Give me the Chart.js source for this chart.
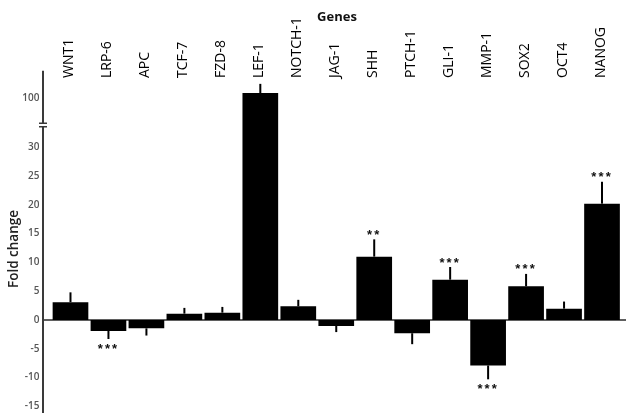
<!DOCTYPE html>
<html>
<head>
<meta charset="utf-8">
<script src="https://cdn.jsdelivr.net/npm/chart.js@4.4.1/dist/chart.umd.min.js"></script>
<style>
  html, body { margin: 0; padding: 0; background: #ffffff; }
  #wrap { width: 626px; height: 413px; position: relative; }
</style>
</head>
<body>
<div id="wrap"><canvas id="c" width="626" height="413"></canvas></div>
<script>
// ---- Data ----
const genes = ['WNT1','LRP-6','APC','TCF-7','FZD-8','LEF-1','NOTCH-1','JAG-1','SHH','PTCH-1','GLI-1','MMP-1','SOX2','OCT4','NANOG'];
const foldChange = [3.1, -1.9, -1.45, 1.1, 1.27, 100.8, 2.37, -1.04, 11.0, -2.3, 7.0, -7.9, 5.85, 1.97, 20.2];
const errorSize = [1.7, 1.4, 1.25, 1.0, 1.0, 1.6, 1.13, 1.06, 3.0, 1.9, 2.2, 2.4, 2.15, 1.23, 3.8];
const significance = ['', '***', '', '', '', '', '', '', '**', '', '***', '***', '***', '', '***'];
const yTicks = [-15, -10, -5, 0, 5, 10, 15, 20, 25, 30, 100];
const breakLow = 33.85;   // top of lower axis segment
const breakHigh = 95.25;  // bottom of upper axis segment

// ---- Broken linear scale ----
class BrokenLinearScale extends Chart.LinearScale {
  toDisplay(v) {
    if (v <= breakLow) return v;
    if (v >= breakHigh) return breakLow + (v - breakHigh);
    return breakLow;
  }
  fromDisplay(d) {
    return d <= breakLow ? d : d - breakLow + breakHigh;
  }
  getPixelForValue(v) { return super.getPixelForValue(this.toDisplay(v)); }
  getValueForPixel(p) { return this.fromDisplay(super.getValueForPixel(p)); }
}
BrokenLinearScale.id = 'brokenLinear';
BrokenLinearScale.defaults = Chart.LinearScale.defaults;
Chart.register(BrokenLinearScale);

const AXIS_X = 43;

const decorPlugin = {
  id: 'decor',
  beforeDatasetsDraw(chart) {
    const ctx = chart.ctx;
    const y = chart.scales.y;
    const y0 = y.getPixelForValue(0);
    ctx.save();
    ctx.strokeStyle = '#2a2a2a';
    ctx.lineWidth = 1.6;
    ctx.beginPath();
    ctx.moveTo(AXIS_X, y0);
    ctx.lineTo(chart.width, y0);
    ctx.stroke();
    ctx.restore();
  },
  afterDatasetsDraw(chart) {
    const ctx = chart.ctx;
    const y = chart.scales.y;
    const meta = chart.getDatasetMeta(0);
    ctx.save();
    // error bars (one-sided, no caps)
    ctx.strokeStyle = '#000';
    ctx.lineWidth = 2;
    meta.data.forEach((bar, i) => {
      const v = foldChange[i];
      const e = v >= 0 ? v + errorSize[i] : v - errorSize[i];
      const py = y.getPixelForValue(v);
      const pe = y.getPixelForValue(e);
      ctx.beginPath();
      ctx.moveTo(bar.x, py);
      ctx.lineTo(bar.x, pe);
      ctx.stroke();
      // significance stars
      const s = significance[i];
      if (s) {
        ctx.font = 'bold 13px "Liberation Sans", Arial, sans-serif';
        ctx.fillStyle = '#111';
        ctx.textAlign = 'center';
        ctx.textBaseline = 'alphabetic';
        const m = ctx.measureText('*');
        const cy = v >= 0 ? pe - 7 : pe + 7.5;
        const base = cy + (m.actualBoundingBoxAscent - m.actualBoundingBoxDescent) / 2;
        const n = s.length;
        for (let k = 0; k < n; k++) {
          const cx = bar.x - 1 + (k - (n - 1) / 2) * 7.2;
          ctx.fillText('*', cx, base);
        }
      }
    });
    // y axis line with break
    const top = 70.7, bottom = chart.height;
    const b1 = 123.2, b2 = 126.8;
    ctx.strokeStyle = '#3a3a3a';
    ctx.lineWidth = 2;
    ctx.beginPath();
    ctx.moveTo(AXIS_X, top); ctx.lineTo(AXIS_X, b1);
    ctx.moveTo(AXIS_X, b2); ctx.lineTo(AXIS_X, bottom);
    ctx.stroke();
    ctx.lineWidth = 1.4;
    ctx.beginPath();
    ctx.moveTo(AXIS_X - 4, b1); ctx.lineTo(AXIS_X + 4, b1);
    ctx.moveTo(AXIS_X - 4, b2); ctx.lineTo(AXIS_X + 4, b2);
    ctx.stroke();
    // titles
    ctx.fillStyle = '#111';
    ctx.font = 'bold 13px "Open Sans", sans-serif';
    ctx.textAlign = 'center';
    ctx.textBaseline = 'middle';
    ctx.fillText('Genes', 337, 17);
    ctx.save();
    ctx.translate(14, 249);
    ctx.rotate(-Math.PI / 2);
    ctx.font = '600 13.5px "Open Sans", sans-serif';
    ctx.fillStyle = '#222';
    ctx.fillText('Fold change', 0, 0);
    ctx.restore();
    ctx.restore();
  }
};

new Chart(document.getElementById('c'), {
  type: 'bar',
  data: {
    labels: genes,
    datasets: [{
      data: foldChange,
      backgroundColor: '#000000',
      borderWidth: 0,
      barPercentage: 0.94,
      categoryPercentage: 1.0
    }]
  },
  options: {
    responsive: false,
    animation: false,
    devicePixelRatio: 1,
    layout: { padding: { left: 0, right: 5, top: 0, bottom: 0 } },
    plugins: { legend: { display: false }, tooltip: { enabled: false } },
    scales: {
      x: {
        type: 'category',
        position: 'top',
        offset: true,
        grid: { display: false, drawTicks: false },
        border: { display: false },
        ticks: {
          minRotation: 90, maxRotation: 90, autoSkip: false,
          padding: 2,
          labelOffset: 15.5,
          color: '#000',
          font: { family: '"Open Sans", sans-serif', size: 14 }
        },
        afterFit(scale) { scale.height = 80; scale.paddingLeft = 0; scale.paddingRight = 0; }
      },
      y: {
        type: 'brokenLinear',
        min: -16.15,
        max: 41.67,
        grid: { display: false, drawTicks: false },
        border: { display: false },
        afterBuildTicks(scale) { scale.ticks = yTicks.map(v => ({ value: v })); },
        ticks: {
          padding: 12,
          color: '#555',
          font: { family: '"Open Sans", sans-serif', size: 10, weight: '600' },
          callback: (v) => String(v)
        },
        afterFit(scale) { scale.width = 51.5; scale.paddingTop = 0; scale.paddingBottom = 0; }
      }
    }
  },
  plugins: [decorPlugin]
});
</script>
</body>
</html>
